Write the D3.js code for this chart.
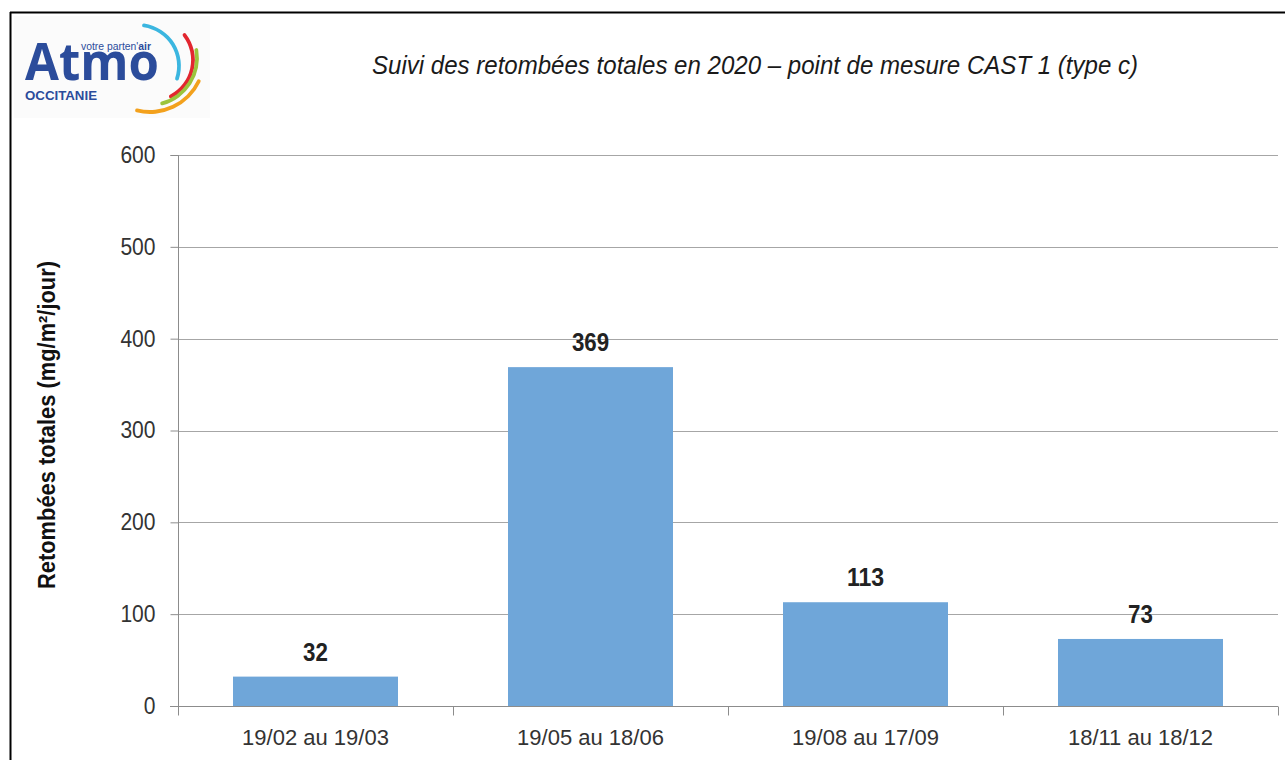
<!DOCTYPE html>
<html><head><meta charset="utf-8">
<script src="https://cdn.jsdelivr.net/npm/d3@7"></script>
<style>html,body{margin:0;padding:0;background:#fff;}svg{display:block;}</style>
</head><body>
<svg id="c" width="1285" height="760"></svg>
<script>
const categories = ["19/02 au 19/03", "19/05 au 18/06", "19/08 au 17/09", "18/11 au 18/12"];
const values = [32, 369, 113, 73];
const yTicks = [0, 100, 200, 300, 400, 500, 600];
const title = "Suivi des retombées totales en 2020 – point de mesure CAST 1 (type c)";
const yTitle = "Retombées totales (mg/m²/jour)";

const svg = d3.select("#c");
const font = "'Liberation Sans', Arial, sans-serif";

// frame
svg.append("line").attr("x1",10).attr("x2",1285).attr("y1",12.5).attr("y2",12.5).attr("stroke","#000").attr("stroke-width",2);
svg.append("line").attr("x1",10.5).attr("x2",10.5).attr("y1",12).attr("y2",760).attr("stroke","#000").attr("stroke-width",2);

// logo
const logo = svg.append("g");
logo.append("rect").attr("x",14).attr("y",16).attr("width",196).attr("height",102).attr("fill","#fbfbfb");
logo.append("text").attr("x",25).attr("y",80).attr("font-family","'Open Sans', 'Liberation Sans', sans-serif").attr("font-weight",700)
  .attr("font-size",52).attr("fill","#2b4c9b").attr("textLength",134).attr("lengthAdjust","spacingAndGlyphs").text("Atmo");
const vp = logo.append("text").attr("x",81).attr("y",50).attr("font-family",font).attr("font-size",10).attr("fill","#2b4c9b")
  .attr("textLength",70).attr("lengthAdjust","spacingAndGlyphs");
vp.append("tspan").text("votre parten'");
vp.append("tspan").attr("font-weight",700).text("air");
logo.append("text").attr("x",25).attr("y",100).attr("font-family",font).attr("font-weight",700).attr("font-size",12.5).attr("fill","#2b4c9b")
  .attr("textLength",72).attr("lengthAdjust","spacingAndGlyphs").text("OCCITANIE");
const arcs = [
  {cx:138, cy:66, r:41, a0:0.1, a1:1.93, c:"#3bb6e0"},
  {cx:152, cy:60, r:41, a0:0.87, a1:2.71, c:"#e2262f"},
  {cx:150, cy:58, r:47, a0:1.36, a1:2.92, c:"#9cc43c"},
  {cx:150, cy:58, r:54, a0:1.98, a1:3.42, c:"#f3a11d"}
];
arcs.forEach(a => {
  logo.append("path").attr("transform",`translate(${a.cx},${a.cy})`)
    .attr("d", d3.arc().innerRadius(a.r-1.9).outerRadius(a.r+1.9).startAngle(a.a0).endAngle(a.a1).cornerRadius(1.9)())
    .attr("fill", a.c);
});

// title
svg.append("text").attr("x",755).attr("y",74).attr("text-anchor","middle").attr("font-family",font)
  .attr("font-style","italic").attr("font-size",26).attr("fill","#1a1a1a")
  .attr("textLength",766).attr("lengthAdjust","spacingAndGlyphs").text(title);

const margin = {left:178, right:1278, top:155, bottom:706};
const x = d3.scaleBand().domain(categories).range([margin.left, margin.right]).paddingInner(0.4).paddingOuter(0.2);
const y = d3.scaleLinear().domain([0,600]).range([margin.bottom, margin.top]);

// gridlines
svg.append("g").selectAll("line").data(yTicks.filter(d=>d>0)).join("line")
  .attr("x1",margin.left).attr("x2",margin.right).attr("y1",d=>Math.round(y(d))+0.5).attr("y2",d=>Math.round(y(d))+0.5)
  .attr("stroke","#a6a6a6").attr("stroke-width",1);

// bars
svg.append("g").selectAll("rect").data(values).join("rect")
  .attr("x",(d,i)=>x(categories[i])).attr("width",x.bandwidth())
  .attr("y",d=>y(d)).attr("height",d=>y(0)-y(d)).attr("fill","#6fa6d9");

// value labels
svg.append("g").selectAll("text").data(values).join("text")
  .attr("x",(d,i)=>x(categories[i])+x.bandwidth()/2).attr("y",d=>y(d)-16)
  .attr("text-anchor","middle").attr("font-family",font)
  .attr("font-weight",700).attr("font-size",25).attr("fill","#222")
  .attr("textLength",d=>String(d).length*12.4).attr("lengthAdjust","spacingAndGlyphs").text(d=>d);

// y axis
const yAxis = d3.axisLeft(y).tickValues(yTicks).tickSize(8).tickPadding(15);
const gy = svg.append("g").attr("transform",`translate(${margin.left+0.5},0)`).call(yAxis);
gy.select(".domain").attr("stroke","#8c8c8c").attr("d",`M-8,${y(600)+0.5}H0V${y(0)+0.5}`);
gy.selectAll(".tick line").attr("stroke","#8c8c8c");
gy.selectAll(".tick text").attr("font-family",font).attr("font-size",23).attr("fill","#333")
  .attr("textLength",d=>String(d).length*11.7).attr("lengthAdjust","spacingAndGlyphs");

// x axis
const xb = d3.scaleLinear().domain([0,categories.length]).range([margin.left, margin.right]);
const gx = svg.append("g").attr("transform",`translate(0,${Math.round(y(0))+0.5})`);
gx.append("line").attr("x1",margin.left-8).attr("x2",margin.right).attr("stroke","#8c8c8c");
gx.selectAll("line.t").data(d3.range(categories.length+1)).join("line").attr("class","t")
  .attr("x1",d=>Math.round(xb(d))+0.5).attr("x2",d=>Math.round(xb(d))+0.5).attr("y1",0).attr("y2",9).attr("stroke","#8c8c8c");
gx.selectAll("text").data(categories).join("text")
  .attr("x",d=>x(d)+x.bandwidth()/2).attr("y",38).attr("text-anchor","middle")
  .attr("font-family",font).attr("font-size",22).attr("fill","#333").text(d=>d);

// y title
svg.append("text").attr("transform","translate(55,425) rotate(-90)").attr("text-anchor","middle")
  .attr("font-family",font).attr("font-weight",700)
  .attr("font-size",23).attr("fill","#111").attr("textLength",328).attr("lengthAdjust","spacingAndGlyphs").text(yTitle);
</script>
</body></html>
